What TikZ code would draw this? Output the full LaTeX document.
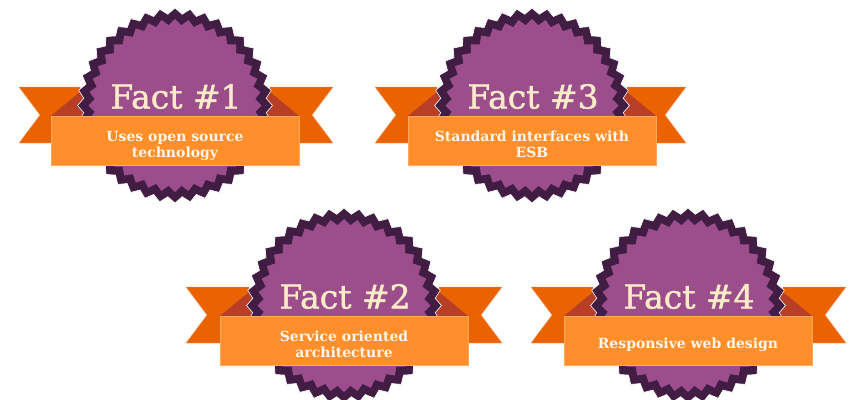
\documentclass[tikz,border=0pt]{standalone}
\usepackage{fontspec}
\setmainfont{DejaVu Serif}
\newfontface\facttitlefont[FakeBold=1.2]{DejaVu Serif}
\definecolor{tailc}{HTML}{EB6200}
\definecolor{foldc}{HTML}{B83F25}
\definecolor{ringc}{HTML}{411D44}
\definecolor{discc}{HTML}{9B4E8B}
\definecolor{bandc}{HTML}{FF8E2B}
\definecolor{titlec}{HTML}{FCEBC9}
\tikzset{
  x=1pt,y=-1pt,
  tailshape/.style={fill=tailc,draw=tailc!60!white,line width=.4pt},
  foldshape/.style={fill=foldc},
  ringshape/.style={fill=ringc,draw=white,line width=.6pt},
  discshape/.style={fill=discc},
  bandshape/.style={fill=bandc,draw=bandc!75!white,line width=.5pt},
  titletext/.style={text=titlec,font=\facttitlefont\fontsize{33}{33}\selectfont,inner sep=0pt},
  bodytext/.style={text=white!60!titlec,font=\bfseries\fontsize{14}{16}\selectfont,inner sep=0pt,align=center},
}
% #1 outer radius, #2 inner radius
\newcommand{\zigzag}[2]{plot[samples=80,domain=0:79,variable=\i]
  ({(mod(round(\i),2)==0?#1:#2)*sin(\i*4.5)},{-(mod(round(\i),2)==0?#1:#2)*cos(\i*4.5)}) -- cycle}
% #1 centre x, #2 centre y, #3 id, #4 title, #5 body, #6 body offset, #7 left tip, #8 right tip
\newcommand{\factbadge}[8]{%
  \begin{scope}[shift={(#1,#2)}]
    \path[tailshape] (-#7,-18.5) -- (-95,-18.5) -- (-95,37.5) -- (-#7,37.5) -- ({-#7+21},9.5) -- cycle;
    \path[tailshape] (#8,-18.5) -- (95,-18.5) -- (95,37.5) -- (#8,37.5) -- ({#8-21},9.5) -- cycle;
    \fill[foldshape] (-124,10.5) -- (-92,-16) -- (-88,10.5) -- cycle;
    \fill[foldshape] (124,10.5) -- (92,-16) -- (88,10.5) -- cycle;
    \path[ringshape] \zigzag{97.5}{91.5};
    \path[discshape] \zigzag{86.5}{80.5};
    \path[bandshape] (-124,10.5) rectangle (124,59.5);
    \node[titletext] (title#3) at (1,-9) {#4};
    \node[bodytext] (body#3) at (0,#6) {#5};
  \end{scope}}
\begin{document}
\begin{tikzpicture}
\useasboundingbox[fill=white] (0,0) rectangle (850,399);
\factbadge{175}{105.5}{a}{Fact \#1}{Uses open source\\technology}{40}{156}{158}
\factbadge{532}{105.5}{c}{Fact \#3}{Standard interfaces with\\ESB}{39}{157}{154}
\factbadge{344}{305.5}{b}{Fact \#2}{Service oriented\\architecture}{39}{158}{158}
\factbadge{688}{305.5}{d}{Fact \#4}{Responsive web design}{39}{157}{158}
\end{tikzpicture}
\end{document}
